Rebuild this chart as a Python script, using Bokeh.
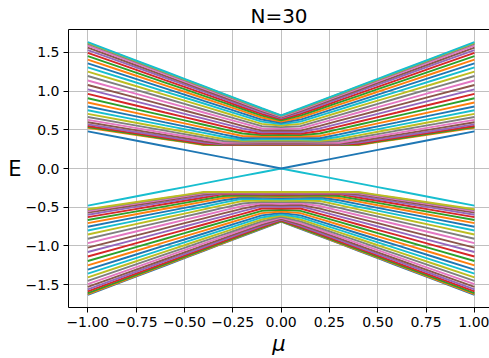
from bokeh.plotting import figure
from bokeh.models import FixedTicker, Range1d, LinearAxis
from bokeh.embed import file_html
from bokeh.resources import INLINE

# chemical potential grid (right half; left half is the mirror image)
mu_half = [0.0, 0.1, 0.2, 0.3, 0.4, 0.5, 0.6, 0.8, 1.0]

# upper bulk band, 29 levels (bottom to top), values read at mu_half
upper_band = [
    [0.303, 0.303, 0.303, 0.302, 0.304, 0.341, 0.378, 0.452, 0.526],
    [0.306, 0.306, 0.305, 0.304, 0.310, 0.348, 0.385, 0.460, 0.535],
    [0.311, 0.311, 0.310, 0.308, 0.320, 0.359, 0.397, 0.473, 0.550],
    [0.319, 0.318, 0.316, 0.313, 0.335, 0.374, 0.413, 0.492, 0.571],
    [0.328, 0.327, 0.324, 0.320, 0.353, 0.394, 0.435, 0.516, 0.598],
    [0.339, 0.338, 0.334, 0.332, 0.375, 0.417, 0.459, 0.544, 0.629],
    [0.352, 0.350, 0.345, 0.356, 0.400, 0.445, 0.489, 0.577, 0.666],
    [0.366, 0.364, 0.357, 0.382, 0.428, 0.475, 0.521, 0.614, 0.707],
    [0.382, 0.379, 0.371, 0.411, 0.460, 0.509, 0.557, 0.655, 0.753],
    [0.399, 0.396, 0.391, 0.442, 0.494, 0.545, 0.596, 0.699, 0.802],
    [0.417, 0.413, 0.420, 0.474, 0.528, 0.583, 0.637, 0.745, 0.853],
    [0.435, 0.431, 0.452, 0.509, 0.566, 0.623, 0.680, 0.794, 0.908],
    [0.455, 0.450, 0.485, 0.545, 0.605, 0.665, 0.724, 0.844, 0.964],
    [0.475, 0.469, 0.518, 0.581, 0.644, 0.707, 0.770, 0.896, 1.022],
    [0.495, 0.489, 0.552, 0.618, 0.684, 0.750, 0.816, 0.948, 1.080],
    [0.515, 0.517, 0.586, 0.655, 0.724, 0.793, 0.862, 1.000, 1.138],
    [0.535, 0.547, 0.619, 0.691, 0.763, 0.836, 0.908, 1.052, 1.196],
    [0.555, 0.577, 0.652, 0.727, 0.802, 0.877, 0.952, 1.102, 1.252],
    [0.573, 0.606, 0.684, 0.762, 0.840, 0.918, 0.995, 1.151, 1.307],
    [0.591, 0.633, 0.713, 0.794, 0.874, 0.955, 1.036, 1.197, 1.358],
    [0.608, 0.659, 0.742, 0.825, 0.908, 0.992, 1.075, 1.241, 1.407],
    [0.624, 0.684, 0.769, 0.855, 0.940, 1.026, 1.111, 1.282, 1.453],
    [0.638, 0.705, 0.792, 0.880, 0.968, 1.056, 1.143, 1.319, 1.494],
    [0.651, 0.725, 0.814, 0.904, 0.993, 1.083, 1.173, 1.352, 1.531],
    [0.662, 0.741, 0.832, 0.924, 1.015, 1.106, 1.197, 1.380, 1.562],
    [0.671, 0.756, 0.848, 0.941, 1.033, 1.126, 1.219, 1.404, 1.589],
    [0.679, 0.767, 0.860, 0.954, 1.048, 1.142, 1.235, 1.423, 1.610],
    [0.684, 0.775, 0.869, 0.964, 1.058, 1.153, 1.247, 1.436, 1.625],
    [0.687, 0.779, 0.874, 0.969, 1.064, 1.159, 1.254, 1.444, 1.634],
]

# in-gap edge state (positive branch), values read at mu_half
edge_state = [0.0, 0.048, 0.096, 0.144, 0.192, 0.240, 0.288, 0.384, 0.480]

x_ticks = [-1.0, -0.75, -0.5, -0.25, 0.0, 0.25, 0.5, 0.75, 1.0]
x_tick_labels = ["\u22121.00", "\u22120.75", "\u22120.50", "\u22120.25", "0.00",
                 "0.25", "0.50", "0.75", "1.00"]
y_ticks = [-1.5, -1.0, -0.5, 0.0, 0.5, 1.0, 1.5]
y_tick_labels = ["\u22121.5", "\u22121.0", "\u22120.5", "0.0", "0.5", "1.0", "1.5"]

colors = ['#1f77b4', '#ff7f0e', '#2ca02c', '#d62728', '#9467bd',
          '#8c564b', '#e377c2', '#7f7f7f', '#bcbd22', '#17becf']

mu = [-m for m in reversed(mu_half[1:])] + mu_half


def full(row):
    return list(reversed(row[1:])) + list(row)


levels = []
for row in reversed(upper_band):
    levels.append([-v for v in full(row)])
levels.append([-v for v in full(edge_state)])
levels.append(full(edge_state))
for row in upper_band:
    levels.append(full(row))

FONT = "DejaVu Sans"
ymax = 1.797

p = figure(width=489, height=358, output_backend="svg", toolbar_location=None,
           x_range=Range1d(-1.1, 1.078), y_range=Range1d(-ymax, ymax),
           min_border_left=68, min_border_right=0, min_border_top=27,
           min_border_bottom=40, title="N=30")

p.title.align = "center"
p.title.text_font = FONT
p.title.text_font_size = "20px"
p.title.text_font_style = "normal"
p.title.text_color = "black"
p.title.standoff = 3
p.title.offset = 0

for i, lv in enumerate(levels):
    p.line(mu, lv, line_color=colors[i % 10], line_width=1.9)

bottom_axis = p.below[0]
left_axis = p.left[0]

bottom_axis.ticker = FixedTicker(ticks=x_ticks)
left_axis.ticker = FixedTicker(ticks=y_ticks)
bottom_axis.major_label_overrides = dict(zip(x_ticks, x_tick_labels))
left_axis.major_label_overrides = dict(zip(y_ticks, y_tick_labels))

p.grid.grid_line_color = "#b0b0b0"
p.grid.grid_line_width = 0.8
p.outline_line_color = None
for ax in (bottom_axis, left_axis):
    ax.axis_line_color = "black"
    ax.minor_tick_line_color = None
    ax.major_tick_out = 5
    ax.major_tick_in = 0
    ax.major_label_text_font = FONT
    ax.major_label_text_font_size = "14px"
    ax.major_label_text_color = "black"
    ax.major_label_standoff = 4

# top spine
top_spine = LinearAxis(ticker=FixedTicker(ticks=[]), axis_line_color="black",
                       major_tick_line_color=None, minor_tick_line_color=None,
                       major_label_text_font_size="0px")
p.add_layout(top_spine, "above")

bottom_axis.axis_label = "\u03bc"
bottom_axis.axis_label_text_font = FONT
bottom_axis.axis_label_text_font_style = "italic"
bottom_axis.axis_label_text_font_size = "21px"
bottom_axis.axis_label_text_color = "black"
bottom_axis.axis_label_standoff = 2

left_axis.axis_label = "E"
left_axis.axis_label_text_font = FONT
left_axis.axis_label_text_font_style = "normal"
left_axis.axis_label_text_font_size = "21px"
left_axis.axis_label_text_color = "black"
left_axis.axis_label_standoff = 1
left_axis.axis_label_text_baseline = "bottom"
if hasattr(left_axis, "axis_label_orientation"):
    left_axis.axis_label_orientation = "horizontal"

open("out.html", "w").write(file_html(p, INLINE))
